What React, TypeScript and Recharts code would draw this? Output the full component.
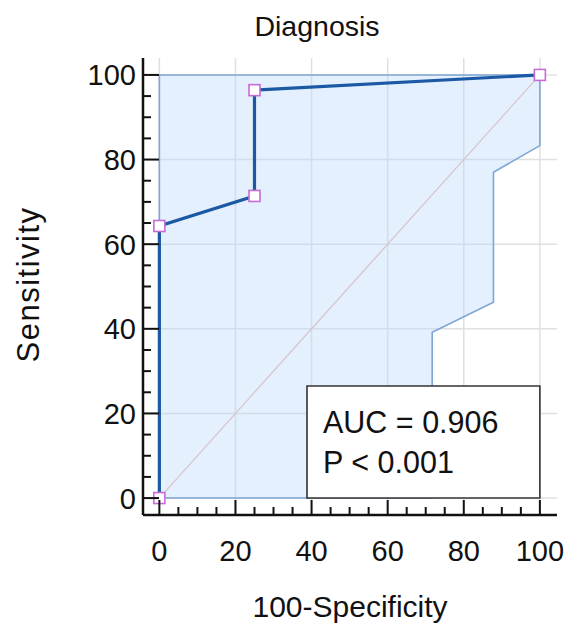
import {
  ComposedChart,
  Area,
  Line,
  XAxis,
  YAxis,
  CartesianGrid,
  ReferenceLine,
  ReferenceArea,
} from "recharts";

// ROC curve points (100-Specificity, Sensitivity)
const rocX = [0, 0, 25, 25, 100];
const rocY = [0, 64.3, 71.4, 96.4, 100];

// confidence band outline (closed polygon)
const ciX = [0, 0, 100, 100, 87.8, 87.8, 71.7, 71.7, 0];
const ciY = [0, 100, 100, 83.3, 77.0, 46.3, 39.2, 0, 0];

// confidence band fill: lower bound along x, upper bound is 100
const bandX = [0, 71.7, 71.7, 87.8, 87.8, 100];
const bandLow = [0, 0, 39.2, 46.3, 77.0, 83.3];
const bandHigh = [100, 100, 100, 100, 100, 100];

const TICKS = [0, 5, 10, 15, 20, 25, 30, 35, 40, 45, 50, 55, 60, 65, 70, 75, 80, 85, 90, 95, 100];
const MAJOR = [0, 20, 40, 60, 80, 100];

const AUC_TEXT = "AUC = 0.906";
const P_TEXT = "P < 0.001";
const AUC_BOX = { x1: 38.8, x2: 100, y1: 0, y2: 26.5 };

const rocData = rocX.map((x, i) => ({ x, y: rocY[i] }));
const ciData = ciX.map((x, i) => ({ x, y: ciY[i] }));
const bandData = bandX.map((x, i) => ({ x, range: [bandLow[i], bandHigh[i]] }));

const FONT = "'Liberation Sans', Arial, Helvetica, sans-serif";
const INK = "#111";

const YTick = (props: any) => {
  const { x, y, payload } = props;
  const major = payload.value % 20 === 0;
  return (
    <g>
      <line x1={x} x2={x + (major ? 16 : 8)} y1={y} y2={y} stroke={INK} strokeWidth={2} />
      {major && (
        <text x={x - 7} y={y} dy="0.36em" textAnchor="end" fontSize={29} fontFamily={FONT} fill={INK}>
          {payload.value}
        </text>
      )}
    </g>
  );
};

const XTick = (props: any) => {
  const { x, y, payload } = props;
  const major = payload.value % 20 === 0;
  return (
    <g>
      <line x1={x} x2={x} y1={y} y2={y - (major ? 15 : 8)} stroke={INK} strokeWidth={2} />
      {major && (
        <text x={x} y={y + 46} textAnchor="middle" fontSize={29} fontFamily={FONT} fill={INK}>
          {payload.value}
        </text>
      )}
    </g>
  );
};

const SquareDot = (props: any) => {
  const { cx, cy, index } = props;
  return (
    <rect
      key={`sq-${index}`}
      x={cx - 5.5}
      y={cy - 5.5}
      width={11}
      height={11}
      fill="#fff"
      stroke="#c76bd6"
      strokeWidth={1.6}
    />
  );
};

export default function App() {
  return (
    <div style={{ position: "absolute", left: 0, top: 0, width: 576, height: 625, background: "#fff" }}>
      <svg width={576} height={60} style={{ position: "absolute", left: 0, top: 0 }}>
        <text x={317} y={36} textAnchor="middle" fontSize={28.5} fontFamily={FONT} fill={INK}>
          Diagnosis
        </text>
      </svg>
      <ComposedChart
        width={576}
        height={625}
        margin={{ top: 58, right: 19, left: 0, bottom: 0 }}
      >
        <CartesianGrid
          stroke="#e0e0e0"
          strokeWidth={1.5}
          horizontalValues={MAJOR}
          verticalValues={MAJOR}
        />
        <XAxis
          type="number"
          dataKey="x"
          domain={[-4.3, 104.5]}
          ticks={TICKS}
          interval={0}
          allowDataOverflow
          height={110}
          tickSize={0}
          tickMargin={0}
          tick={<XTick />}
          axisLine={{ stroke: INK, strokeWidth: 2.5 }}
          label={{
            content: (p: any) => {
              const vb = p.viewBox;
              return (
                <text x={vb.x + vb.width / 2} y={vb.y + 102} textAnchor="middle" fontSize={30} fontFamily={FONT} fill={INK}>
                  100-Specificity
                </text>
              );
            },
          }}
        />
        <YAxis
          type="number"
          domain={[-4, 104]}
          ticks={TICKS}
          interval={0}
          allowDataOverflow
          width={143}
          tickSize={0}
          tickMargin={0}
          tick={<YTick />}
          axisLine={{ stroke: INK, strokeWidth: 2.5 }}
          label={{
            content: (p: any) => {
              const vb = p.viewBox;
              const cy = vb.y + vb.height / 2 - 2;
              return (
                <text
                  x={38.5}
                  y={cy}
                  transform={`rotate(-90 38.5 ${cy})`}
                  textAnchor="middle"
                  fontSize={31}
                  letterSpacing={1.5}
                  fontFamily={FONT}
                  fill={INK}
                >
                  Sensitivity
                </text>
              );
            },
          }}
        />
        <Area
          data={bandData}
          dataKey="range"
          type="linear"
          fill="#bcd9fb"
          fillOpacity={0.4}
          stroke="none"
          isAnimationActive={false}
        />
        <ReferenceLine
          segment={[{ x: 0, y: 0 }, { x: 100, y: 100 }]}
          stroke="#d8c4cc"
          strokeWidth={1.3}
        />
        <Line
          data={ciData}
          dataKey="y"
          type="linear"
          stroke="#7fa6d4"
          strokeWidth={1.6}
          dot={false}
          isAnimationActive={false}
        />
        <ReferenceArea
          x1={AUC_BOX.x1}
          x2={AUC_BOX.x2}
          y1={AUC_BOX.y1}
          y2={AUC_BOX.y2}
          fill="#fff"
          fillOpacity={1}
          stroke="#333"
          strokeWidth={1.6}
          zIndex={450}
          label={{
            content: (p: any) => {
              const vb = p.viewBox;
              return (
                <g>
                  <text x={vb.x + 16} y={vb.y + 47} fontSize={30.5} fontFamily={FONT} fill={INK}>
                    {AUC_TEXT}
                  </text>
                  <text x={vb.x + 16} y={vb.y + 87} fontSize={30.5} fontFamily={FONT} fill={INK}>
                    {P_TEXT}
                  </text>
                </g>
              );
            },
          }}
        />
        <Line
          data={rocData}
          dataKey="y"
          type="linear"
          stroke="#1c59a4"
          strokeWidth={3.2}
          dot={SquareDot}
          activeDot={false}
          isAnimationActive={false}
        />
      </ComposedChart>
    </div>
  );
}
